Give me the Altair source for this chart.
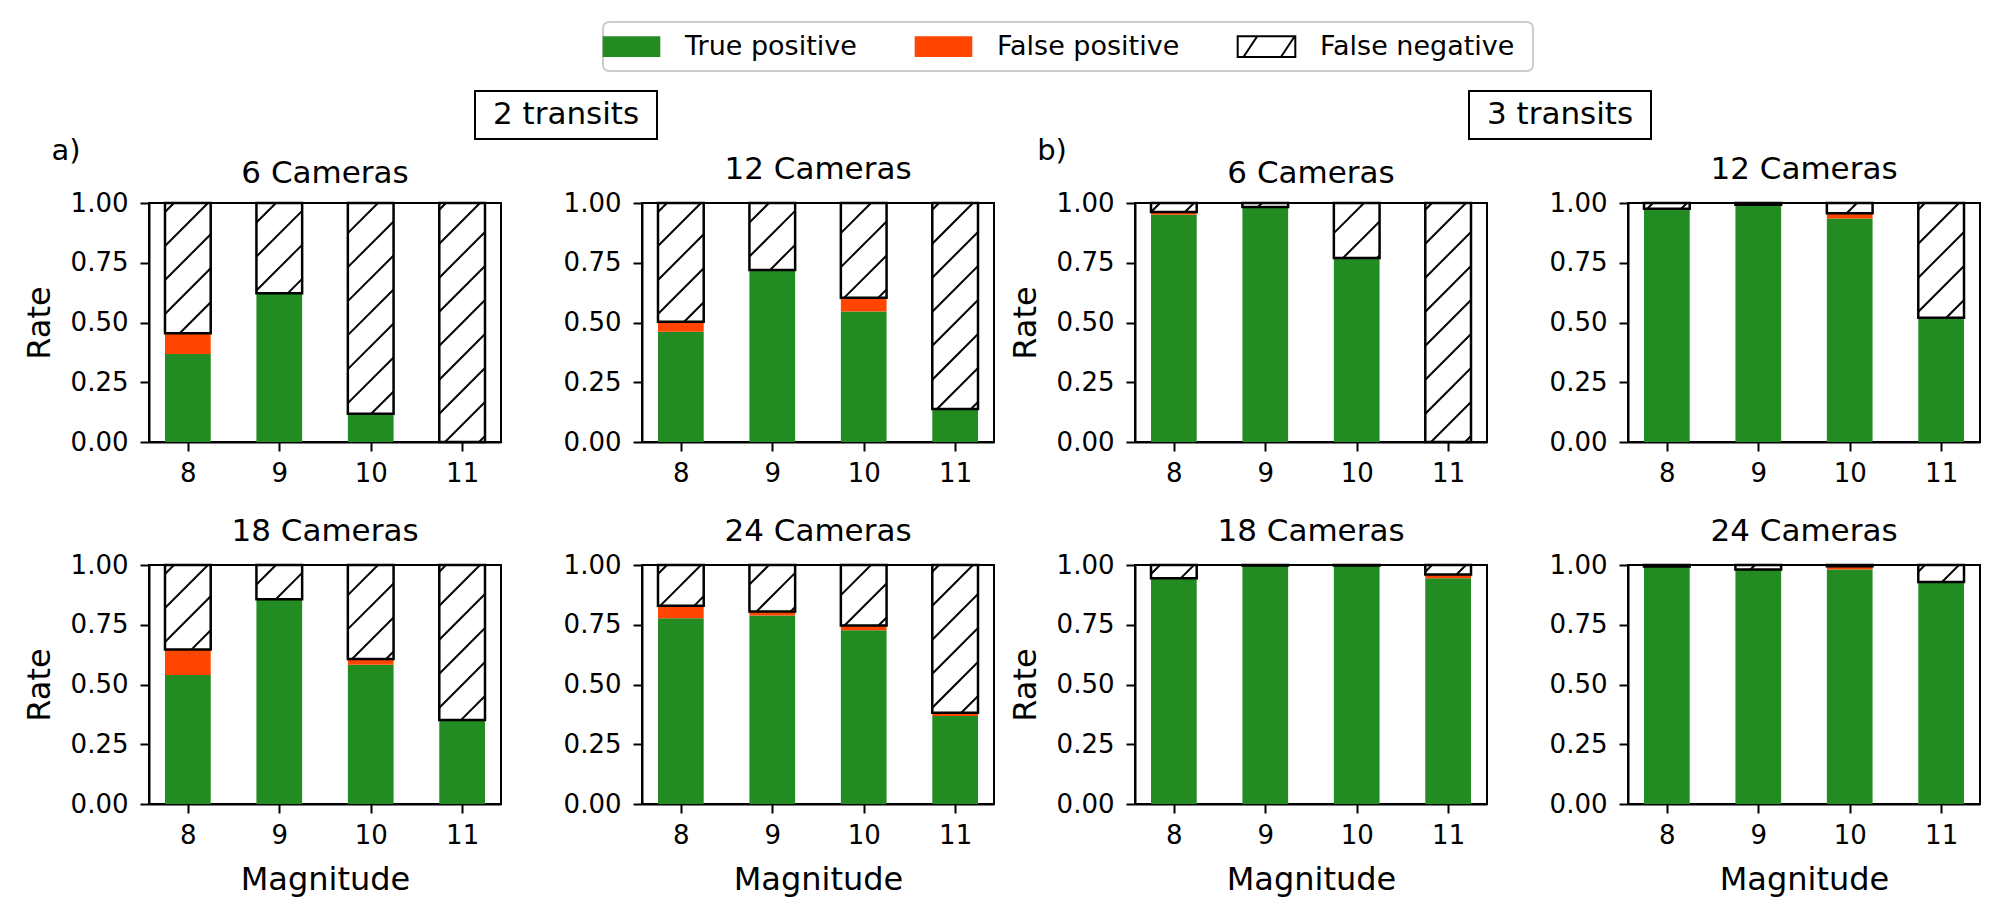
import altair as alt
import pandas as pd
import numpy as np

# ---------------- data ----------------
magnitudes = [8, 9, 10, 11]
kinds = ["True positive", "False positive", "False negative"]

tp_2tr_6 = [0.368, 0.622, 0.118, 0.0]
fp_2tr_6 = [0.087, 0.0, 0.0, 0.0]
tp_2tr_12 = [0.461, 0.720, 0.546, 0.138]
fp_2tr_12 = [0.042, 0.0, 0.058, 0.0]
tp_2tr_18 = [0.540, 0.857, 0.583, 0.351]
fp_2tr_18 = [0.106, 0.0, 0.024, 0.0]
tp_2tr_24 = [0.777, 0.789, 0.727, 0.368]
fp_2tr_24 = [0.052, 0.016, 0.020, 0.014]

tp_3tr_6 = [0.951, 0.983, 0.770, 0.0]
fp_3tr_6 = [0.011, 0.0, 0.0, 0.0]
tp_3tr_12 = [0.976, 0.993, 0.935, 0.520]
fp_3tr_12 = [0.0, 0.0, 0.022, 0.0]
tp_3tr_18 = [0.945, 0.998, 0.998, 0.945]
fp_3tr_18 = [0.0, 0.0, 0.0, 0.015]
tp_3tr_24 = [0.994, 0.981, 0.981, 0.929]
fp_3tr_24 = [0.0, 0.0, 0.014, 0.0]

panels = [
    ("2 transits", "6 Cameras", tp_2tr_6, fp_2tr_6),
    ("2 transits", "12 Cameras", tp_2tr_12, fp_2tr_12),
    ("3 transits", "6 Cameras", tp_3tr_6, fp_3tr_6),
    ("3 transits", "12 Cameras", tp_3tr_12, fp_3tr_12),
    ("2 transits", "18 Cameras", tp_2tr_18, fp_2tr_18),
    ("2 transits", "24 Cameras", tp_2tr_24, fp_2tr_24),
    ("3 transits", "18 Cameras", tp_3tr_18, fp_3tr_18),
    ("3 transits", "24 Cameras", tp_3tr_24, fp_3tr_24),
]

# ---------------- style ----------------
FONT = "DejaVu Sans"
W, H = 352, 239
XMIN, XMAX = 7.575, 11.425
HALF = 0.25
GREEN, ORANGE = "#228B22", "#FF4500"
HATCH_SPACING = 34.0  # px

def segments(tp, fp):
    rows = []
    for m, t, f in zip(magnitudes, tp, fp):
        rows.append({"mag": m, "x0": m - HALF, "x1": m + HALF, "y0": 0.0, "y1": t, "kind": kinds[0]})
        rows.append({"mag": m, "x0": m - HALF, "x1": m + HALF, "y0": t, "y1": t + f, "kind": kinds[1]})
        rows.append({"mag": m, "x0": m - HALF, "x1": m + HALF, "y0": t + f, "y1": 1.0, "kind": kinds[2]})
    return pd.DataFrame(rows)

def hatch(tp, fp):
    sx = W / (XMAX - XMIN)
    sy = H
    rows = []
    for m, t, f in zip(magnitudes, tp, fp):
        X0, X1 = (m - HALF - XMIN) * sx, (m + HALF - XMIN) * sx
        Y0, Y1 = (t + f) * sy, 1.0 * sy
        if Y1 - Y0 < 1:
            continue
        kmin = int(np.floor((Y0 - X1) / HATCH_SPACING)) - 1
        kmax = int(np.ceil((Y1 - X0) / HATCH_SPACING)) + 1
        for k in range(kmin, kmax + 1):
            c = k * HATCH_SPACING + 10
            xs = max(X0, Y0 - c)
            xe = min(X1, Y1 - c)
            if xe - xs > 0.5:
                rows.append({"hx": xs / sx + XMIN, "hx2": xe / sx + XMIN,
                             "hy": (xs + c) / sy, "hy2": (xe + c) / sy})
    return pd.DataFrame(rows, columns=["hx", "hx2", "hy", "hy2"])

color_scale = alt.Scale(domain=kinds, range=[GREEN, ORANGE, "white"])
stroke_scale = alt.Scale(domain=kinds, range=["transparent", "transparent", "black"])
xscale = alt.Scale(domain=[XMIN, XMAX], nice=False, zero=False)
yscale = alt.Scale(domain=[0, 1], nice=False)

# legend swatch: wide rectangle (drawn twice as wide as its nominal size) with "/" hatch
SWATCH = "M-2,-0.72L2,-0.72L2,0.72L-2,0.72Z M-1.6,0.72L-0.64,-0.72 M1.0,0.72L1.96,-0.72"

def panel(idx, group, cams, tp, fp):
    col = idx % 4
    row = idx // 4
    ytitle = "Rate" if col in (0, 2) else None
    xtitle = "Magnitude" if row == 1 else None
    xaxis = alt.Axis(values=magnitudes, format="d", title=xtitle, labelFontSize=26,
                     titleFontSize=32, titleFontWeight="normal", titlePadding=16,
                     tickSize=9, tickWidth=2, domainWidth=2, domainColor="black",
                     tickColor="black", labelColor="black", labelPadding=9, grid=False,
                     labelFont=FONT, titleFont=FONT)
    yaxis = alt.Axis(values=[0, 0.25, 0.5, 0.75, 1.0], format=".2f", title=ytitle,
                     labelFontSize=26, titleFontSize=32, titleFontWeight="normal",
                     titlePadding=14, tickSize=9, tickWidth=2, domainWidth=2,
                     domainColor="black", tickColor="black", labelColor="black",
                     labelPadding=12, grid=False, labelFont=FONT, titleFont=FONT)
    seg = segments(tp, fp)
    bars = alt.Chart(seg).mark_rect(strokeWidth=2.5).encode(
        x=alt.X("x0:Q", scale=xscale, axis=xaxis),
        x2="x1:Q",
        y=alt.Y("y0:Q", scale=yscale, axis=yaxis),
        y2="y1:Q",
        fill=alt.Fill("kind:N", scale=color_scale, title=None,
                      legend=alt.Legend(orient="none", legendX=458, legendY=-181,
                                        direction="horizontal", columns=3,
                                        symbolType=SWATCH,
                                        symbolSize=830, symbolStrokeWidth=2,
                                        labelFontSize=27, labelFont=FONT, labelColor="black",
                                        labelLimit=0,
                                        columnPadding=53, labelOffset=38,
                                        padding=9)),
        stroke=alt.Stroke("kind:N", scale=stroke_scale, title=None),
        order=alt.Order("y0:Q"),
    )
    hd = hatch(tp, fp)
    lines = alt.Chart(hd).mark_rule(color="black", strokeWidth=2).encode(
        x="hx:Q", x2="hx2:Q", y="hy:Q", y2="hy2:Q")
    layers = [bars, lines]
    dy = 0
    if row == 0 and col in (0, 2):
        letter = "a)" if col == 0 else "b)"
        cx = 417 if col == 0 else 425
        lab = alt.Chart(pd.DataFrame({"t": [letter]})).mark_text(
            fontSize=29, font=FONT, align="center", baseline="middle", color="black"
        ).encode(x=alt.value(-83), y=alt.value(-52), text="t:N")
        box = alt.Chart(pd.DataFrame({"t": [group]})).mark_rect(
            fill="white", stroke="black", strokeWidth=2
        ).encode(x=alt.value(cx - 91), x2=alt.value(cx + 91),
                 y=alt.value(-112), y2=alt.value(-64))
        gt = alt.Chart(pd.DataFrame({"t": [group]})).mark_text(
            fontSize=31, font=FONT, align="center", baseline="middle", color="black"
        ).encode(x=alt.value(cx), y=alt.value(-88), text="t:N")
        layers += [lab, box, gt]
        dy = 104
        if col == 0:
            frame = alt.Chart(pd.DataFrame({"t": ["legend"]})).mark_rect(
                fill="white", stroke="#cccccc", strokeWidth=2, cornerRadius=6
            ).encode(x=alt.value(454), x2=alt.value(1384),
                     y=alt.value(-181), y2=alt.value(-132))
            layers = [frame] + layers
            dy = 173
    return alt.layer(*layers).properties(
        width=W, height=H,
        view=alt.ViewBackground(stroke="black", strokeWidth=2),
        title=alt.TitleParams(cams, fontSize=31, font=FONT, fontWeight="normal",
                              offset=4, dy=dy, frame="group", color="black"),
    )

charts = [panel(i, *p) for i, p in enumerate(panels)]
chart = alt.concat(*charts, columns=4, spacing={"row": 123, "column": 141},
                   bounds="flush").configure_view(
    stroke="black", strokeWidth=2
).properties(
    padding={"left": 14, "top": 12, "right": 5, "bottom": 5}
).configure(background="white")

chart.save("out.html", embed_options={"renderer": "svg", "actions": False})
